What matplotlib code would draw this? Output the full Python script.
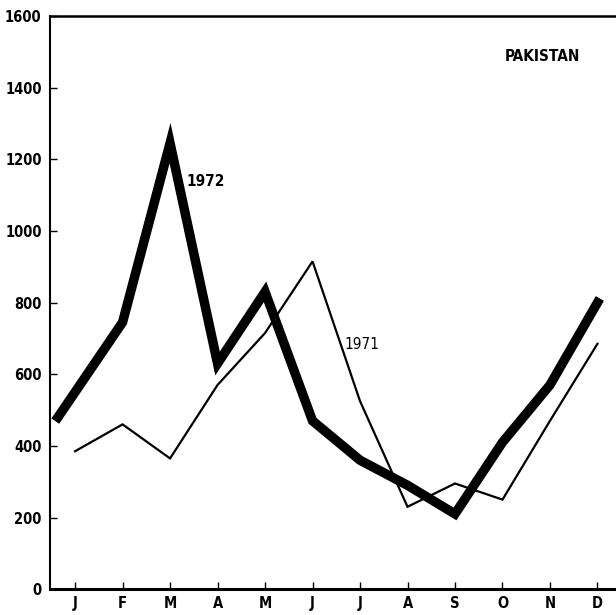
import matplotlib.pyplot as plt

months = ["J", "F", "M", "A", "M", "J", "J", "A", "S", "O", "N", "D"]
pos_1971 = [0, 1, 2, 3, 4, 5, 6, 7, 8, 9, 10, 11]
vals_1971 = [385, 460, 365, 570, 715, 915, 525, 230, 295, 250, 470, 685]
# the 1972 curve begins a bit left of the J tick in the original
pos_1972 = [-0.36, 1, 2, 3, 4, 5, 6, 7, 8, 9, 10, 11]
vals_1972 = [480, 745, 1245, 630, 830, 470, 360, 290, 210, 410, 570, 800]
yticks = [0, 200, 400, 600, 800, 1000, 1200, 1400, 1600]

plt.rcParams['font.family'] = ['DejaVu Sans']
plt.rcParams['font.stretch'] = 'condensed'

fig = plt.figure(figsize=(6.16, 6.15), dpi=100)
ax = fig.add_axes([0.081, 0.042, 0.919, 0.932])

ax.plot(pos_1971, vals_1971, color="black", lw=1.6, solid_joinstyle="miter")
ax.plot(pos_1972, vals_1972, color="black", lw=6.8, solid_joinstyle="miter")

ax.set_xlim(-0.53, 11.39)
ax.set_ylim(0, 1600)
ax.set_xticks(range(12))
ax.set_xticklabels(months, fontsize=10.5, fontweight="bold", fontstretch="condensed")
ax.set_yticks(yticks)
ax.set_yticklabels([str(v) for v in yticks], fontsize=10.5, fontweight="bold",
                   fontstretch="condensed")
ax.tick_params(axis="x", direction="in", length=5, width=1, pad=5)
ax.tick_params(axis="y", direction="in", length=5, width=1, pad=6)

ax.spines["right"].set_visible(False)
ax.spines["left"].set_linewidth(1.5)
ax.spines["top"].set_linewidth(1.8)
ax.spines["bottom"].set_linewidth(2.2)

ax.text(9.85, 1486, "PAKISTAN", fontsize=11, fontweight="bold", fontstretch="condensed",
        ha="center", va="center")
ax.text(2.34, 1137, "1972", fontsize=11, fontweight="bold", fontstretch="condensed",
        ha="left", va="center")
ax.text(5.68, 682, "1971", fontsize=11, fontstretch="condensed", ha="left", va="center")

fig.savefig("out.png", dpi=100)
